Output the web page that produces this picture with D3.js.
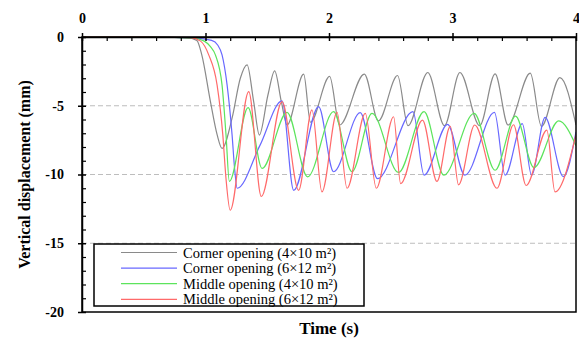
<!DOCTYPE html>
<html>
<head>
<meta charset="utf-8">
<script src="https://cdn.jsdelivr.net/npm/d3@7"></script>
<style>
  html, body { margin: 0; padding: 0; background: #fff; }
  svg { display: block; }
  svg text { font-family: "Liberation Serif", "DejaVu Serif", serif; }
</style>
</head>
<body>
<svg id="chart" width="579" height="338"></svg>
<script>
// ---- Data (time in s, vertical displacement in mm) ----
const seriesNames = [
  "Corner opening (4\u00d710 m\u00b2)",
  "Corner opening (6\u00d712 m\u00b2)",
  "Middle opening (4\u00d710 m\u00b2)",
  "Middle opening (6\u00d712 m\u00b2)"
];
const seriesColors = ["#8a8a8a", "#6868ff", "#5ce45c", "#ff6a6a"];

const corner4x10 = [
  [0,0],[0.5,0],[0.85,-0.05],[0.93,-0.25],[0.97,-1.3],[1.04,-4.7],[1.094,-7.1],[1.134,-8.1],
  [1.215,-5.9],[1.282,-3.0],[1.337,-2.02],[1.39,-4.7],[1.436,-7.13],[1.506,-4.2],[1.56,-2.46],
  [1.614,-4.7],[1.66,-6.4],[1.795,-2.7],[1.85,-6.2],[2.005,-2.87],[2.086,-6.4],[2.286,-2.7],
  [2.40,-6.1],[2.555,-2.8],[2.64,-6.45],[2.80,-2.58],[2.935,-6.45],[3.06,-2.58],[3.22,-6.45],
  [3.345,-2.68],[3.45,-6.4],[3.63,-2.63],[3.72,-6.5],[3.87,-2.95],[4.0,-6.4]
];
const corner6x12 = [
  [0,0],[0.5,0],[0.9,-0.08],[1.05,-0.25],[1.1,-0.6],[1.134,-1.3],[1.175,-3.5],[1.215,-7.1],
  [1.236,-9.6],[1.256,-11.0],[1.44,-7.9],[1.62,-4.65],[1.714,-11.15],[1.916,-5.06],[2.037,-9.8],
  [2.253,-5.5],[2.393,-10.3],[2.68,-5.43],[2.77,-10.05],[2.96,-6.35],[3.10,-10.05],[3.34,-5.48],
  [3.426,-10.05],[3.565,-6.3],[3.64,-10.05],[3.75,-5.85],[3.898,-10.15],[4.0,-6.9]
];
const middle4x10 = [
  [0,0],[0.5,0],[0.9,-0.08],[0.99,-0.3],[1.04,-0.7],[1.08,-1.3],[1.134,-3.5],[1.166,-7.1],
  [1.193,-10.5],[1.345,-5.14],[1.458,-9.56],[1.66,-5.48],[1.827,-10.17],[2.037,-5.43],
  [2.186,-9.8],[2.348,-5.55],[2.563,-9.85],[2.77,-5.43],[2.93,-10.05],[3.175,-5.55],
  [3.345,-9.69],[3.51,-5.76],[3.66,-9.5],[3.86,-6.1],[4.0,-7.9]
];
const middle6x12 = [
  [0,0],[0.5,0],[0.88,-0.05],[0.96,-0.3],[1.026,-1.3],[1.094,-3.5],[1.14,-7.1],[1.166,-10.3],
  [1.20,-12.6],[1.35,-3.97],[1.452,-11.6],[1.62,-4.7],[1.754,-11.15],[1.862,-5.3],[1.943,-11.27],
  [2.065,-5.48],[2.146,-11.0],[2.294,-5.55],[2.383,-11.0],[2.523,-5.8],[2.58,-10.66],
  [2.757,-6.04],[2.874,-10.5],[2.982,-6.5],[3.049,-10.75],[3.18,-6.4],[3.36,-11.0],
  [3.494,-6.38],[3.596,-10.8],[3.764,-6.77],[3.83,-11.27],[4.0,-7.1]
];
const allSeries = [corner4x10, corner6x12, middle4x10, middle6x12];

const xMajorTicks = [0, 1, 2, 3, 4];
const xMinorTicks = [0.2,0.4,0.6,0.8,1.2,1.4,1.6,1.8,2.2,2.4,2.6,2.8,3.2,3.4,3.6,3.8];
const yMajorTicks = [0, -5, -10, -15, -20];
const yMinorTicks = [-1,-2,-3,-4,-6,-7,-8,-9,-11,-12,-13,-14,-16,-17,-18,-19];
const gridValues = [-5, -10, -15];
const xTitle = "Time (s)";
const yTitle = "Vertical displacement (mm)";

// ---- Drawing ----
const FONT = "'Liberation Serif', 'DejaVu Serif', serif";
const svg = d3.select("#chart");
const L = 82, R = 576, T = 37, B = 312;
const x = d3.scaleLinear().domain([0, 4]).range([L, R]);
const y = d3.scaleLinear().domain([-20, 0]).range([B, T]);

svg.append("rect").attr("width", 579).attr("height", 338).attr("fill", "#fff");

svg.append("clipPath").attr("id", "clip")
  .append("rect").attr("x", L).attr("y", T - 2).attr("width", R - L).attr("height", B - T + 2);

// gridlines
svg.append("g").selectAll("line").data(gridValues).join("line")
  .attr("x1", L).attr("x2", R)
  .attr("y1", d => y(d)).attr("y2", d => y(d))
  .attr("stroke", "#bdbdbd").attr("stroke-width", 1)
  .attr("stroke-dasharray", "5,3");

// series
const line = d3.line().x(d => x(d[0])).y(d => y(d[1])).curve(d3.curveMonotoneX);
svg.append("g").attr("clip-path", "url(#clip)")
  .selectAll("path").data(allSeries).join("path")
  .attr("d", line)
  .attr("fill", "none")
  .attr("stroke", (d, i) => seriesColors[i])
  .attr("stroke-width", 1.2);

// frame (right & bottom)
svg.append("rect").attr("x", L).attr("y", T).attr("width", R - L).attr("height", B - T)
  .attr("fill", "none").attr("stroke", "#000").attr("stroke-width", 1.5);

// top axis
const topAxis = svg.append("g").attr("transform", `translate(0,${T})`)
  .call(d3.axisTop(x).tickValues(xMajorTicks).tickFormat(d => String(d))
    .tickSize(4).tickSizeOuter(0).tickPadding(10));
topAxis.selectAll(".tick line").attr("y1", 4).attr("y2", -4).attr("stroke-width", 1.5);
svg.append("g").attr("transform", `translate(0,${T})`)
  .call(d3.axisTop(x).tickValues(xMinorTicks).tickFormat("").tickSize(-4).tickSizeOuter(0))
  .call(g => g.select(".domain").remove())
  .selectAll(".tick line").attr("stroke-width", 1.2);

// left axis
const leftAxis = svg.append("g").attr("transform", `translate(${L},0)`)
  .call(d3.axisLeft(y).tickValues(yMajorTicks).tickFormat(d => String(d))
    .tickSize(4).tickSizeOuter(0).tickPadding(14));
leftAxis.selectAll(".tick line").attr("x1", -4).attr("x2", 4).attr("stroke-width", 1.5);
svg.append("g").attr("transform", `translate(${L},0)`)
  .call(d3.axisLeft(y).tickValues(yMinorTicks).tickFormat("").tickSize(-4).tickSizeOuter(0))
  .call(g => g.select(".domain").remove())
  .selectAll(".tick line").attr("stroke-width", 1.2);

[topAxis, leftAxis].forEach(a => {
  a.attr("font-family", null);
  a.select(".domain").attr("stroke-width", 1.5);
  a.selectAll(".tick text")
    .style("font-family", FONT).style("font-size", "14px").style("font-weight", "bold").attr("fill", "#000");
});

// axis titles
svg.append("text")
  .attr("x", (L + R) / 2).attr("y", 334)
  .attr("text-anchor", "middle")
  .style("font-family", FONT).style("font-size", "17px").style("font-weight", "bold")
  .text(xTitle);
svg.append("text")
  .attr("transform", `translate(30,${(T + B) / 2}) rotate(-90)`)
  .attr("text-anchor", "middle")
  .style("font-family", FONT).style("font-size", "16px").style("font-weight", "bold")
  .text(yTitle);

// legend
const lg = svg.append("g");
lg.append("rect").attr("x", 94).attr("y", 244).attr("width", 270).attr("height", 62)
  .attr("fill", "#fff").attr("stroke", "#000").attr("stroke-width", 1.5);
const rows = lg.selectAll("g.row").data(seriesNames).join("g")
  .attr("class", "row")
  .attr("transform", (d, i) => `translate(0,${252.5 + i * 15.6})`);
rows.append("line").attr("x1", 121).attr("x2", 177).attr("y1", 0).attr("y2", 0)
  .attr("stroke", (d, i) => seriesColors[i]).attr("stroke-width", 1.2);
rows.append("text").attr("x", 183).attr("y", 0).attr("dy", "0.35em")
  .style("font-family", FONT).style("font-size", "14.5px").attr("fill", "#000")
  .text(d => d);
</script>
</body>
</html>
